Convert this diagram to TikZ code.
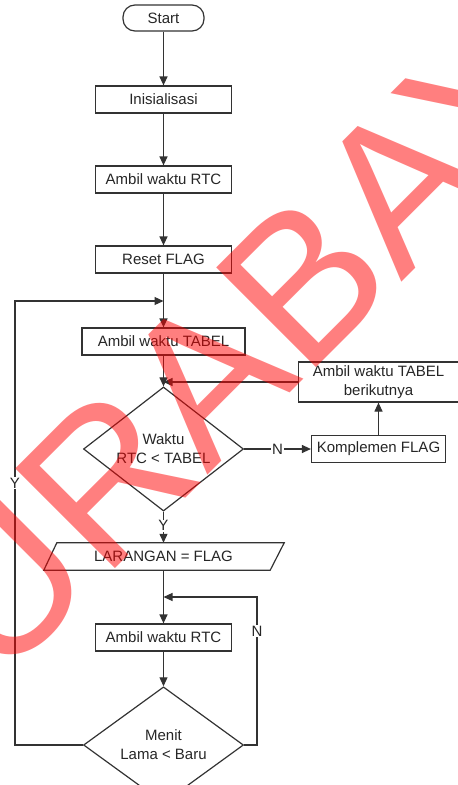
\documentclass[tikz,border=0pt]{standalone}
\usepackage{fontspec}
\setmainfont{Liberation Sans}
\usetikzlibrary{shapes.geometric,arrows.meta}
\begin{document}
\begin{tikzpicture}[x=1pt,y=-1pt,
  every node/.style={font=\fontsize{15}{19}\selectfont, text=black!85},
  box/.style={draw=black!80, line width=1.2pt, rectangle, minimum height=27pt, inner sep=0pt, align=center},
  term/.style={box, rounded corners=12pt},
  dec/.style={draw=black!80, line width=1.2pt, diamond, minimum width=160pt, minimum height=80pt, inner sep=0pt, align=center},
  lbl/.style={fill=white, inner sep=1pt},
  arr/.style={draw=black!80, line width=1.2pt, -{Triangle[length=9pt,width=8pt]}},
  ln/.style={draw=black!80, line width=1.2pt}]
\useasboundingbox (0,0) rectangle (458,785);

\node[term, minimum width=81pt, minimum height=26pt] (start) at (163.5,18) {Start};
\node[box, minimum width=136pt] (init) at (163.5,99.5) {Inisialisasi};
\node[box, minimum width=136pt] (rtc1) at (163.5,179.5) {Ambil waktu RTC};
\node[box, minimum width=136pt] (reset) at (163.5,259.5) {Reset FLAG};
\node[box, minimum width=163pt] (tabel) at (163.5,341.5) {Ambil waktu TABEL};
\node[dec] (dec1) at (163.5,449) {Waktu\\RTC < TABEL};
\node[box, minimum width=134pt] (komp) at (378.5,449) {Komplemen FLAG};
\node[box, minimum width=160pt, minimum height=40pt] (next) at (378.5,382) {Ambil waktu TABEL\\berikutnya};
\node[rectangle, minimum width=213pt, minimum height=27pt, inner sep=0pt] (para) at (163.5,556.5) {LARANGAN = FLAG};
\draw[ln] (para.north west) -- ([xshift=14pt]para.north east) -- (para.south east) -- ([xshift=-13pt]para.south west) -- cycle;
\node[box, minimum width=136pt] (rtc2) at (163.5,637.5) {Ambil waktu RTC};
\node[dec] (dec2) at (163.5,745) {Menit\\Lama < Baru};

\coordinate (j1) at (163.5,301);
\coordinate (j2) at (163.5,382);
\coordinate (j3) at (163.5,597);
\coordinate (ly) at (15,745);
\coordinate (ry) at (257,745);

\draw[arr] (start) -- (init);
\draw[arr] (init) -- (rtc1);
\draw[arr] (rtc1) -- (reset);
\draw[arr] (reset) -- (tabel);
\draw[arr] (tabel) -- (dec1);
\draw[arr] (next.west) -- (j2);
\draw[arr] (dec1.east) -- node[lbl] {N} (komp.west);
\draw[arr] (komp.north) -- (next.south);
\draw[arr] (dec1.south) -- node[lbl, pos=0.45] {Y} (para.north);
\draw[arr] (para.south) -- (rtc2.north);
\draw[arr] (rtc2.south) -- (dec2.north);
\draw[arr] (dec2.west) -- (ly) -- node[lbl, pos=0.59] {Y} (ly |- j1) -- (j1);
\draw[arr] (dec2.east) -- (ry) -- node[lbl, pos=0.77] {N} (ry |- j3) -- (j3);

\begin{scope}
\clip (0,0) rectangle (458,785);
\node[rotate=45, text=red, text opacity=0.5, inner sep=0pt, font=\fontsize{205}{205}\selectfont] (wm) at (236,348) {SURABAYA};
\end{scope}
\end{tikzpicture}
\end{document}
